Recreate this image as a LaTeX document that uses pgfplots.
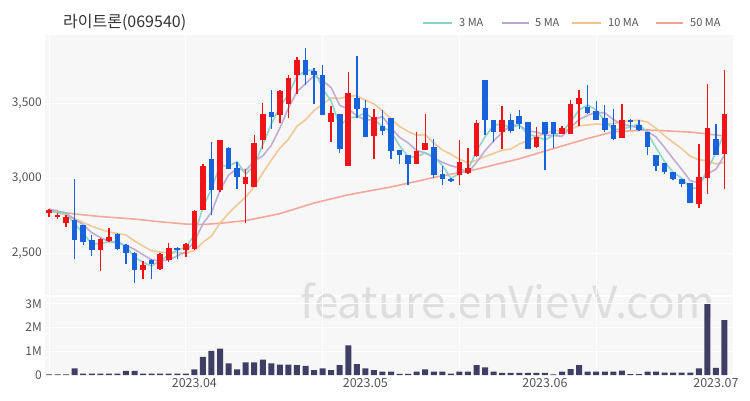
\documentclass[border=0pt]{standalone}
\usepackage{fontspec}
\setmainfont{Noto Sans CJK KR}
\usepackage{pgfplots}
\usepackage{pgfplotstable}
\pgfplotsset{compat=1.18}

\definecolor{bg}{HTML}{F7F7F7}
\definecolor{upc}{HTML}{F01418}
\definecolor{dnc}{HTML}{1862DC}
\definecolor{volc}{HTML}{3F3F66}
\definecolor{ma3}{HTML}{86D3C7}
\definecolor{ma5}{HTML}{B9A6D3}
\definecolor{ma10}{HTML}{F0C48C}
\definecolor{ma50}{HTML}{F3A090}
\definecolor{txt}{HTML}{555555}
\definecolor{ttl}{HTML}{333333}
\definecolor{wm}{HTML}{DEDEDE}

\pgfplotstableread{
x o h l c
0 2769 2798 2742 2791
1 2742 2769 2731 2758
2 2702 2753 2676 2742
6 2524 2604 2382 2598
7 2582 2671 2576 2609
11 2391 2447 2331 2424
13 2398 2502 2391 2498
14 2453 2569 2442 2538
16 2520 2569 2476 2560
17 2531 2787 2520 2782
18 2791 3093 2791 3080
20 2920 3258 2909 3258
23 2960 3064 2702 3009
24 2942 3287 2942 3236
25 3253 3502 3198 3427
27 3420 3591 3370 3582
28 3498 3687 3400 3671
29 3691 3809 3560 3791
33 3376 3480 3242 3436
35 3080 3709 3080 3569
38 3280 3460 3131 3410
43 3093 3309 3093 3182
44 3187 3427 3187 3236
48 3020 3253 2953 3109
49 3036 3200 3031 3071
50 3150 3390 3142 3369
53 3309 3480 3198 3387
57 3209 3342 3204 3276
60 3298 3347 3293 3338
61 3298 3524 3298 3493
62 3493 3587 3347 3538
67 3271 3498 3271 3391
76 2831 3231 2804 3009
77 3004 3631 2893 3338
79 3164 3720 2931 3427
}\upt

\pgfplotstableread{
x o h l c
3 2724 2998 2464 2587
4 2687 2687 2553 2576
5 2587 2620 2480 2524
8 2631 2636 2520 2531
9 2553 2564 2431 2502
10 2502 2509 2302 2391
12 2458 2464 2331 2431
15 2538 2542 2464 2524
19 3131 3242 2753 2920
21 3204 3209 3060 3064
22 3071 3109 2931 3009
26 3442 3591 3331 3410
30 3791 3871 3620 3687
31 3716 3738 3493 3687
32 3687 3753 3420 3420
34 3427 3427 3169 3198
36 3538 3813 3400 3464
37 3469 3520 3276 3276
39 3347 3453 3287 3316
40 3404 3404 3131 3182
41 3191 3191 3093 3153
42 3153 3153 2953 3093
45 3209 3264 3000 3020
46 3031 3080 2955 2998
47 2998 3004 2975 2982
51 3653 3653 3290 3387
52 3391 3391 3242 3309
54 3387 3431 3300 3316
55 3413 3458 3331 3364
56 3376 3376 3198 3198
58 3376 3376 3053 3293
59 3376 3376 3204 3293
63 3476 3620 3431 3436
64 3449 3516 3387 3391
65 3404 3487 3309 3324
66 3353 3464 3253 3264
68 3391 3398 3320 3376
69 3353 3387 3316 3320
70 3309 3309 3153 3209
71 3153 3153 3049 3080
72 3102 3102 3031 3042
73 3042 3042 2987 2998
74 2998 2998 2942 2964
75 2969 2969 2836 2836
78 3264 3364 3153 3153
}\dnt

\pgfplotstableread{
x m3 m5 m10
0 2785 2795 2780
1 2772 2782 2770
2 2764 2768 2755
3 2696 2725 2731
4 2635 2691 2705
5 2562 2637 2680
6 2566 2605 2660
7 2577 2579 2642
8 2579 2568 2632
9 2547 2553 2622
10 2475 2526 2582
11 2439 2491 2548
12 2415 2456 2517
13 2451 2449 2508
14 2489 2456 2505
15 2520 2483 2505
16 2541 2510 2501
17 2622 2580 2518
18 2807 2697 2573
19 2927 2773 2615
20 3086 2920 2702
21 3081 3021 2766
22 3110 3066 2823
23 3027 3052 2874
24 3085 3115 2944
25 3224 3149 3035
26 3361 3220 3121
27 3476 3335 3201
28 3558 3467 3260
29 3681 3578 3347
30 3716 3630 3390
31 3722 3684 3452
32 3598 3651 3493
33 3514 3604 3536
34 3351 3486 3532
35 3401 3462 3546
36 3410 3417 3551
37 3436 3389 3520
38 3392 3389 3496
39 3343 3412 3449
40 3311 3335 3398
41 3217 3273 3345
42 3143 3236 3312
43 3143 3185 3287
44 3170 3169 3291
45 3146 3137 3236
46 3085 3106 3189
47 3000 3084 3160
48 3030 3069 3127
49 3054 3036 3103
50 3183 3106 3121
51 3276 3184 3145
52 3355 3249 3166
53 3361 3305 3187
54 3337 3354 3195
55 3356 3353 3229
56 3293 3315 3249
57 3279 3308 3279
58 3256 3289 3297
59 3287 3285 3319
60 3308 3280 3316
61 3375 3339 3327
62 3456 3391 3350
63 3489 3420 3355
64 3455 3439 3362
65 3384 3436 3358
66 3326 3391 3365
67 3326 3361 3376
68 3344 3349 3384
69 3362 3335 3387
70 3302 3312 3374
71 3203 3275 3333
72 3110 3205 3283
73 3040 3130 3240
74 3001 3059 3197
75 2933 2984 3148
76 2936 2970 3123
77 3061 3029 3117
78 3167 3060 3095
79 3306 3153 3106
}\mat

\pgfplotstableread{
x m50
0 2785
3 2762
6 2745
10 2728
13 2710
16 2695
18 2692
20 2700
23 2718
27 2764
31 2835
35 2890
40 2942
45 3005
50 3060
55 3130
60 3215
63 3265
66 3310
70 3322
75 3308
79 3282
}\maf

\pgfplotstableread{
x v
0 0.03
1 0.03
2 0.03
3 0.28
4 0.06
5 0.06
6 0.06
7 0.06
8 0.06
9 0.17
10 0.17
11 0.06
12 0.06
13 0.06
14 0.06
15 0.06
16 0.06
17 0.24
18 0.76
19 1.02
20 1.11
21 0.49
22 0.24
23 0.53
24 0.53
25 0.65
26 0.49
27 0.44
28 0.44
29 0.42
30 0.39
31 0.21
32 0.28
33 0.21
34 0.42
35 1.25
36 0.46
37 0.28
38 0.21
39 0.14
40 0.14
41 0.05
42 0.05
43 0.14
44 0.24
45 0.14
46 0.14
47 0.06
48 0.14
49 0.14
50 0.42
51 0.32
52 0.14
53 0.09
54 0.09
55 0.09
56 0.09
57 0.09
58 0.09
59 0.03
60 0.14
61 0.25
62 0.42
63 0.14
64 0.14
65 0.14
66 0.14
67 0.18
68 0.04
69 0.04
70 0.14
71 0.14
72 0.10
73 0.10
74 0.10
75 0.10
76 0.28
77 2.99
78 0.30
79 2.32
}\volt

\pgfplotsset{
  candle/.style 2 args={draw=none, mark=none, forget plot,
    error bars/.cd, y dir=plus, y explicit, error mark=none,
    error bar style={draw=#1, line width=#2, solid}},
}

\begin{document}
\begin{tikzpicture}[x=1pt,y=1pt]
\path[use as bounding box] (0,0) rectangle (750,400);
\fill[bg] (45,105) rectangle (733,365);
\fill[bg] (45,24) rectangle (733,103);
\node[anchor=base west, inner sep=0pt, text=wm, font=\fontsize{44}{44}\selectfont] at (300,82) {feature.enVievV.com};

\node[anchor=west, inner sep=0pt, text=ttl, font=\fontsize{16}{18}\selectfont] at (63,378) {라이트론(069540)};

\draw[ma3, line width=1.5pt] (423,377) -- (452,377);
\node[anchor=west, inner sep=0pt, text=txt, font=\fontsize{11}{12}\selectfont] at (459,377) {3 MA};
\draw[ma5, line width=1.5pt] (502,377) -- (529,377);
\node[anchor=west, inner sep=0pt, text=txt, font=\fontsize{11}{12}\selectfont] at (535,377) {5 MA};
\draw[ma10, line width=1.5pt] (572,377) -- (601,377);
\node[anchor=west, inner sep=0pt, text=txt, font=\fontsize{11}{12}\selectfont] at (608,377) {10 MA};
\draw[ma50, line width=1.5pt] (656,377) -- (683,377);
\node[anchor=west, inner sep=0pt, text=txt, font=\fontsize{11}{12}\selectfont] at (690,377) {50 MA};

\begin{axis}[
  at={(45pt,105pt)}, anchor=south west, scale only axis,
  width=688pt, height=260pt,
  xmin=-0.47, xmax=80, ymin=2222, ymax=3955,
  axis line style={draw=none}, tick style={draw=none},
  xtick={0,16,32,48,64}, xticklabels={},
  ytick={2500,3000,3500},
  grid=major, grid style={white, line width=1pt},
  yticklabel style={font=\fontsize{12}{14}\selectfont, text=txt, inner sep=0pt, xshift=-3pt},
  /pgf/number format/1000 sep={,},
  /pgf/number format/assume math mode=true,
]
\addplot[ma50, line width=1.6pt, opacity=0.9, line join=round] table[x=x,y=m50]{\maf};
\addplot[ma10, line width=1.6pt, opacity=0.9, line join=round] table[x=x,y=m10]{\mat};
\addplot[ma5, line width=1.6pt, opacity=0.9, line join=round] table[x=x,y=m5]{\mat};
\addplot[ma3, line width=1.6pt, opacity=0.9, line join=round] table[x=x,y=m3]{\mat};
% wicks
\addplot[candle={upc}{1.4pt}] table[x=x, y=l, y error plus expr=\thisrow{h}-\thisrow{l}]{\upt};
\addplot[candle={dnc}{1.4pt}] table[x=x, y=l, y error plus expr=\thisrow{h}-\thisrow{l}]{\dnt};
% bodies
\addplot[candle={upc}{5.6pt}] table[x=x, y=o, y error plus expr=\thisrow{c}-\thisrow{o}]{\upt};
\addplot[candle={dnc}{5.6pt}] table[x=x, y=c, y error plus expr=\thisrow{o}-\thisrow{c}]{\dnt};
\end{axis}

\begin{axis}[
  at={(45pt,24pt)}, anchor=south west, scale only axis,
  width=688pt, height=79pt,
  xmin=-0.47, xmax=80, ymin=-0.042, ymax=3.29,
  axis line style={draw=none}, tick style={draw=none},
  xtick={17,37,58,78}, xticklabels={2023.04,2023.05,2023.06,2023.07},
  minor xtick={0,16,32,48,64}, xminorgrids, minor grid style={white, line width=1pt},
  ytick={0,1,2,3}, yticklabels={0,1M,2M,3M}, ymajorgrids,
  major grid style={white, line width=1pt},
  yticklabel style={font=\fontsize{12}{14}\selectfont, text=txt, inner sep=0pt, xshift=-3pt},
  xticklabel style={font=\fontsize{12.5}{14}\selectfont, text=txt, inner sep=0pt, yshift=-2pt},
]
\addplot[ybar, bar width=6pt, bar shift=0pt, fill=volc, draw=none] table[x=x,y=v]{\volt};
\end{axis}
\end{tikzpicture}
\end{document}
